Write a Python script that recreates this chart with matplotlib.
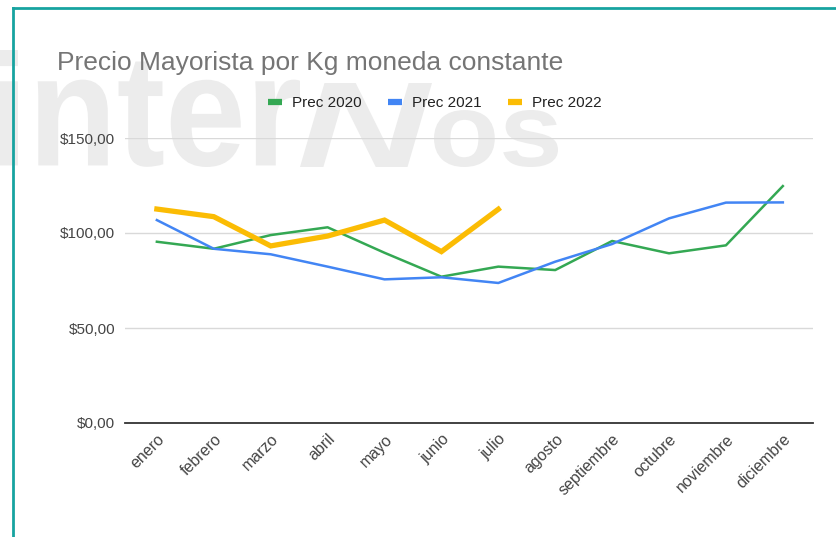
import matplotlib
matplotlib.use("Agg")
import matplotlib.pyplot as plt
from matplotlib.lines import Line2D
from matplotlib.textpath import TextPath
from matplotlib.patches import PathPatch
from matplotlib.font_manager import FontProperties
from matplotlib.transforms import Affine2D

plt.rcParams['font.family'] = ['Liberation Sans', 'DejaVu Sans']

# datos
meses = ['enero', 'febrero', 'marzo', 'abril', 'mayo', 'junio', 'julio',
         'agosto', 'septiembre', 'octubre', 'noviembre', 'diciembre']
prec_2020 = [95.4, 91.7, 98.9, 103.0, 89.6, 77.0, 82.3, 80.5, 95.8, 89.3, 93.5, 124.7]
prec_2021 = [106.8, 91.7, 88.8, 82.3, 75.6, 76.7, 73.7, 84.9, 94.2, 107.7, 116.0, 116.1]
prec_2022 = [112.6, 108.6, 93.2, 98.4, 106.8, 90.2, 112.5]
y_ticks = [0, 50, 100, 150]
y_labels = ['$0,00', '$50,00', '$100,00', '$150,00']

verde = '#34a853'
azul = '#4285f4'
amarillo = '#fbbc04'

W, H = 836, 537
fig = plt.figure(figsize=(W / 100, H / 100), dpi=100)


def marca(texto, x0, x1, ytop, ybase, style='normal'):
    # texto de la marca de agua, encajado en una caja en pixeles
    tp = TextPath((0, 0), texto, size=100,
                  prop=FontProperties(family='Liberation Sans', weight='bold', style=style))
    bb = tp.get_extents()
    yb, yt = H - ybase, H - ytop
    tr = (Affine2D().translate(-bb.x0, -bb.y0)
          .scale((x1 - x0) / bb.width / 100, (yt - yb) / bb.height / 100)
          .translate(x0 / 100, yb / 100) + fig.dpi_scale_trans)
    fig.patches.append(PathPatch(tp, transform=tr, facecolor='#ececec',
                                 edgecolor='none', zorder=-5))


marca('inter', -2, 300, 50, 167)
marca('N', 300, 432, 83, 167, style='italic')
marca('os', 434, 558, 110, 167)

# borde turquesa
fig.add_artist(Line2D([13 / W, 13 / W], [0, 1 - 8 / H], color='#17a3a0', lw=2.0))
fig.add_artist(Line2D([13 / W, 1], [1 - 8 / H, 1 - 8 / H], color='#17a3a0', lw=2.0))

ax = fig.add_axes([125 / W, 1 - 423 / H, (813 - 125) / W, (423 - 138) / H])
ax.set_facecolor('none')

x = list(range(len(meses)))
ax.plot(x, prec_2020, color=verde, lw=1.8, label='Prec 2020', zorder=3)
ax.plot(x, prec_2021, color=azul, lw=1.8, label='Prec 2021', zorder=3)
ax.plot(x[:len(prec_2022)], prec_2022, color=amarillo, lw=3.8, label='Prec 2022',
        zorder=4, solid_joinstyle='miter')

ax.set_xlim(-0.56, 11.53)
ax.set_ylim(0, 150)
ax.set_yticks(y_ticks)
ax.set_yticklabels(y_labels)
ax.set_xticks(x)
ax.set_xticklabels(meses, rotation=45, ha='right', rotation_mode='anchor')
ax.tick_params(axis='both', length=0, labelsize=11, labelcolor='#444444')
ax.tick_params(axis='x', labelsize=11.5, pad=6)
ax.tick_params(axis='y', pad=7)

ax.grid(axis='y', color='#d9d9d9', lw=1.0)
for s in ['top', 'right', 'left']:
    ax.spines[s].set_visible(False)
ax.spines['bottom'].set_color('#333333')
ax.spines['bottom'].set_linewidth(1.3)
ax.spines['bottom'].set_zorder(5)

fig.text(57 / W, 1 - 70 / H, 'Precio Mayorista por Kg moneda constante',
         fontsize=19, color='#757575', va='baseline', ha='left')

handles = [Line2D([], [], color=c, lw=4.5, solid_capstyle='butt')
           for c in (verde, azul, amarillo)]
fig.legend(handles, ['Prec 2020', 'Prec 2021', 'Prec 2022'],
           loc='center', bbox_to_anchor=(435 / W, 1 - 103 / H), ncol=3,
           frameon=False, fontsize=11, handlelength=0.9, handletextpad=0.7,
           columnspacing=1.7, labelcolor='#222222')

fig.savefig('out.png', dpi=100)
